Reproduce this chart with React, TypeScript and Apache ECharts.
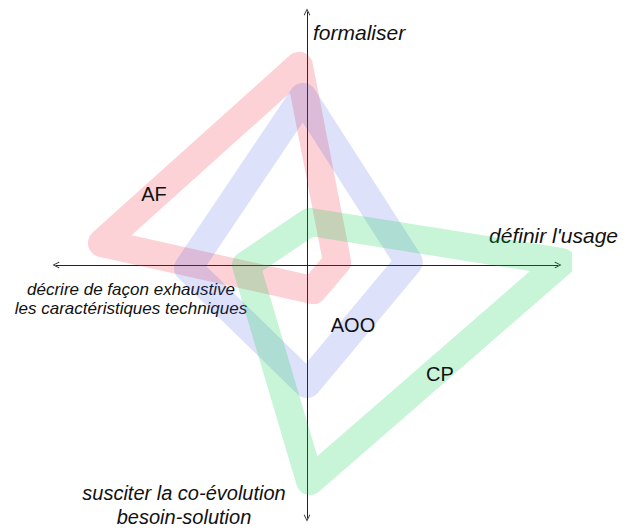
import React, { useEffect, useRef } from "react";
import * as echarts from "echarts";

// Axis captions (top, right, bottom, left)
const axisTop = "formaliser";
const axisRight = "définir l'usage";
const axisBottom = "susciter la co-évolution\nbesoin-solution";
const axisLeft = "décrire de façon exhaustive\nles caractéristiques techniques";

// Series names
const seriesNames = ["AF", "AOO", "CP"];

// Polygon vertices: top, right, bottom, left, back to top (scale -100..100)
const afX = [-3.2, 12.0, 2.4, -81.7, -3.2];
const afY = [78.7, 1.2, -9.9, 8.7, 78.7];
const aooX = [-1.6, 40.6, 0.0, -47.4, -1.6];
const aooY = [66.4, 1.2, -47.0, -1.2, 66.4];
const cpX = [1.2, 101.5, 1.2, -24.3, 1.2];
const cpY = [17.0, 1.2, -85.4, 0.0, 17.0];

const colors = ["#f01e37", "#3d4fe2", "#05d249"];
const opacities = [0.2, 0.17, 0.22];

const pairs = (xs: number[], ys: number[]) => xs.map((x, i) => [x, ys[i]]);

const chevron = "path://M0,10 L5,0 L10,10 L9,10.8 L5,2.6 L1,10.8 Z";

export default function App() {
  const ref = useRef<HTMLDivElement>(null);
  useEffect(() => {
    if (!ref.current) return;
    const chart = echarts.init(ref.current, undefined, { renderer: "svg" });
    const datasets = [pairs(afX, afY), pairs(aooX, aooY), pairs(cpX, cpY)];
    const axisCommon = {
      type: "value" as const,
      min: -100,
      max: 100,
      axisLine: {
        onZero: true,
        symbol: [chevron, chevron],
        symbolSize: [9, 7],
        lineStyle: { color: "#222", width: 1 },
      },
      axisTick: { show: false },
      axisLabel: { show: false },
      splitLine: { show: false },
    };
    const labelFont = 'italic 21px "Liberation Sans", Arial, sans-serif';
    chart.setOption({
      animation: false,
      backgroundColor: "#ffffff",
      grid: { left: 56, right: 74, top: 12, bottom: 12, containLabel: false },
      xAxis: axisCommon,
      yAxis: axisCommon,
      series: datasets.map((d, i) => ({
        name: seriesNames[i],
        type: "line",
        data: d,
        symbol: "none",
        smooth: false,
        clip: false,
        z: 3 + i,
        lineStyle: {
          width: 28,
          color: colors[i],
          opacity: opacities[i],
          join: "round",
          cap: "round",
        },
      })),
      graphic: [
        {
          type: "text",
          x: 313,
          y: 32,
          style: { text: axisTop, font: labelFont, fill: "#111", align: "left", verticalAlign: "middle" },
        },
        {
          type: "text",
          x: 618,
          y: 235,
          style: { text: axisRight, font: labelFont, fill: "#111", align: "right", verticalAlign: "middle" },
        },
        {
          type: "text",
          x: 184,
          y: 505,
          style: {
            text: axisBottom,
            font: 'italic 20px "Liberation Sans", Arial, sans-serif',
            fill: "#111",
            align: "center",
            verticalAlign: "middle",
            lineHeight: 24,
          },
        },
        {
          type: "text",
          x: 131,
          y: 299,
          style: {
            text: axisLeft,
            font: 'italic 17px "Liberation Sans", Arial, sans-serif',
            fill: "#111",
            align: "center",
            verticalAlign: "middle",
            lineHeight: 19,
          },
        },
        {
          type: "text",
          x: 154,
          y: 194,
          z: 10,
          style: { text: seriesNames[0], font: '20px "Liberation Sans", Arial, sans-serif', fill: "#111", align: "center", verticalAlign: "middle" },
        },
        {
          type: "text",
          x: 353,
          y: 325,
          z: 10,
          style: { text: seriesNames[1], font: '20px "Liberation Sans", Arial, sans-serif', fill: "#111", align: "center", verticalAlign: "middle" },
        },
        {
          type: "text",
          x: 440,
          y: 374,
          z: 10,
          style: { text: seriesNames[2], font: '20px "Liberation Sans", Arial, sans-serif', fill: "#111", align: "center", verticalAlign: "middle" },
        },
      ],
    });
    return () => chart.dispose();
  }, []);
  return (
    <div
      ref={ref}
      style={{ position: "fixed", left: 0, top: 0, width: 632, height: 530 }}
    />
  );
}
